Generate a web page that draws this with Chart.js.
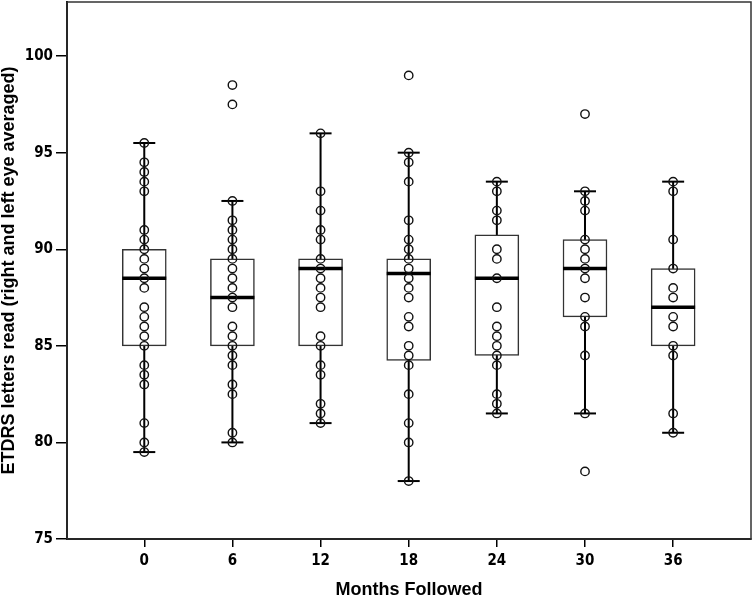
<!DOCTYPE html>
<html>
<head>
<meta charset="utf-8">
<script src="https://cdn.jsdelivr.net/npm/chart.js@4.4.1/dist/chart.umd.min.js"></script>
<style>
  body { margin: 0; background: #fff; }
  #wrap { width: 754px; height: 599px; }
</style>
</head>
<body>
<div id="wrap"><canvas id="boxChart"></canvas></div>
<script>
// Months followed (x categories)
const months = [0, 6, 12, 18, 24, 30, 36];
const yTicks = [75, 80, 85, 90, 95, 100];

// Box plot summary
const whiskerLow  = [79.5, 80, 81, 78, 81.5, 81.5, 80.5];
const quartile1   = [85, 85, 85, 84.25, 84.5, 86.5, 85];
const medians     = [88.5, 87.5, 89, 88.75, 88.5, 89, 87];
const quartile3   = [90, 89.5, 89.5, 89.5, 90.75, 90.5, 89];
const whiskerHigh = [95.5, 92.5, 96, 95, 93.5, 93, 93.5];

// Individual ETDRS scores per visit (incl. outliers)
const scores0  = [95.5, 94.5, 94, 93.5, 93, 91, 90.5, 90, 89.5, 89, 88.5, 88, 87, 86.5, 86, 85.5, 85, 84, 83.5, 83, 81, 80, 79.5];
const scores6  = [98.5, 97.5, 92.5, 91.5, 91, 90.5, 90, 89.5, 89, 88.5, 88, 87.5, 87, 86, 85.5, 85, 84.5, 84, 83, 82.5, 80.5, 80];
const scores12 = [96, 93, 92, 91, 90.5, 89.5, 89, 88.5, 88, 87.5, 87, 85.5, 85, 84, 83.5, 82, 81.5, 81];
const scores18 = [99, 95, 94.5, 93.5, 91.5, 90.5, 90, 89.5, 89, 88.5, 88, 87.5, 86.5, 86, 85, 84.5, 84, 82.5, 81, 80, 78];
const scores24 = [93.5, 93, 92, 91.5, 90, 89.5, 88.5, 87, 86, 85.5, 85, 84.5, 84, 82.5, 82, 81.5];
const scores30 = [97, 93, 92.5, 92, 90.5, 90, 89.5, 89, 88.5, 87.5, 86.5, 86, 84.5, 81.5, 78.5];
const scores36 = [93.5, 93, 90.5, 89, 88, 87.5, 86.5, 86, 85, 84.5, 81.5, 80.5];
const allScores = [scores0, scores6, scores12, scores18, scores24, scores30, scores36];

const tickFont = { family: "'DejaVu Sans Condensed', sans-serif", size: 15, weight: 'bold' };
const titleFont = { family: "'Liberation Sans', Arial, sans-serif", size: 18, weight: 'bold', lineHeight: 1 };

// whisker stems, split with null gaps
const stemData = [];
months.forEach((m, i) => {
  stemData.push({ x: m, y: whiskerLow[i] }, { x: m, y: whiskerHigh[i] }, { x: m, y: null });
});
const capData = [];
months.forEach((m, i) => {
  capData.push({ x: m, y: whiskerLow[i] }, { x: m, y: whiskerHigh[i] });
});
const pointData = [];
months.forEach((m, i) => {
  allScores[i].forEach(v => pointData.push({ x: m, y: v }));
});

const framePlugin = {
  id: 'frame',
  beforeDatasetsDraw(chart) {
    const { ctx, chartArea: a } = chart;
    ctx.save();
    ctx.strokeStyle = '#333';
    ctx.lineWidth = 1.5;
    ctx.strokeRect(a.left, a.top, a.right - a.left, a.bottom - a.top);
    ctx.restore();
  }
};

const ctx = document.getElementById('boxChart').getContext('2d');
new Chart(ctx, {
  type: 'scatter',
  data: {
    datasets: [
      {
        type: 'scatter',
        label: 'scores',
        data: pointData,
        pointStyle: 'circle',
        pointRadius: 4.2,
        pointBorderWidth: 1.4,
        pointBorderColor: '#111',
        pointBackgroundColor: 'rgba(0,0,0,0)',
        order: 0
      },
      {
        type: 'scatter',
        label: 'median',
        data: months.map((m, i) => ({ x: m, y: medians[i] })),
        pointStyle: 'line',
        pointRadius: 22,
        pointBorderWidth: 3.5,
        pointBorderColor: '#000',
        order: 1
      },
      {
        type: 'scatter',
        label: 'caps',
        data: capData,
        pointStyle: 'line',
        pointRadius: 11,
        pointBorderWidth: 2,
        pointBorderColor: '#000',
        order: 1
      },
      {
        type: 'bar',
        label: 'box',
        data: months.map((m, i) => ({ x: m, y: [quartile1[i], quartile3[i]] })),
        backgroundColor: '#fff',
        borderColor: '#333',
        borderWidth: 1.5,
        borderSkipped: false,
        barThickness: 44,
        order: 2
      },
      {
        type: 'line',
        label: 'whiskers',
        data: stemData,
        borderColor: '#000',
        borderWidth: 2,
        pointRadius: 0,
        spanGaps: false,
        order: 3
      }
    ]
  },
  options: {
    responsive: true,
    maintainAspectRatio: false,
    animation: false,
    events: [],
    layout: { autoPadding: false, padding: { top: 2, right: 3, left: 0, bottom: 0 } },
    plugins: { legend: { display: false }, tooltip: { enabled: false } },
    scales: {
      x: {
        type: 'linear',
        position: 'bottom',
        offset: false,
        min: -5.26,
        max: 41.3,
        afterBuildTicks: s => { s.ticks = months.map(v => ({ value: v })); },
        afterFit: s => { s.height = 60; s.paddingLeft = 0; s.paddingRight = 0; },
        grid: { offset: false, drawOnChartArea: false, drawTicks: true, tickLength: 8, color: '#000', lineWidth: 1.5 },
        border: { display: true, color: '#000', width: 2 },
        ticks: { font: tickFont, color: '#000', padding: 5, maxRotation: 0 },
        title: { display: true, text: 'Months Followed', font: titleFont, color: '#000', padding: 0 }
      },
      y: {
        type: 'linear',
        min: 75,
        max: 102.8,
        afterBuildTicks: s => { s.ticks = yTicks.map(v => ({ value: v })); },
        afterFit: s => { s.width = 67; s.paddingTop = 0; s.paddingBottom = 0; },
        grid: { drawOnChartArea: false, drawTicks: true, tickLength: 11, color: '#000', lineWidth: 1.5 },
        border: { display: true, color: '#000', width: 2 },
        ticks: { font: tickFont, color: '#000', padding: 3 },
        title: { display: true, text: 'ETDRS letters read (right and left eye averaged)', font: titleFont, color: '#000', padding: 0 }
      }
    }
  },
  plugins: [framePlugin]
});
</script>
</body>
</html>
